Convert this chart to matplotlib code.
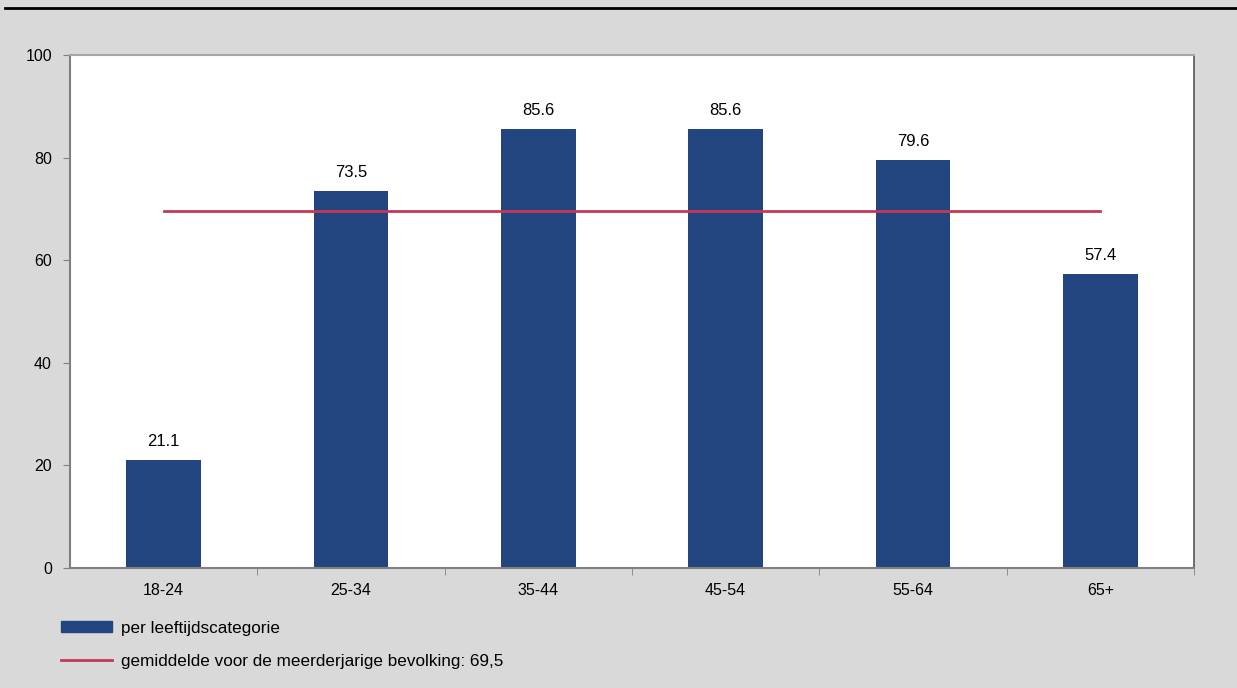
import matplotlib
matplotlib.use("Agg")
import matplotlib.pyplot as plt
from matplotlib.lines import Line2D
from matplotlib.patches import Patch
import numpy as np

# leeftijdscategorieën en percentages
categories = ["18-24", "25-34", "35-44", "45-54", "55-64", "65+"]
values = [21.1, 73.5, 85.6, 85.6, 79.6, 57.4]
average = 69.5
yticks = [0, 20, 40, 60, 80, 100]

bar_color = "#22447f"
avg_color = "#c23a55"
bg_color = "#d9d9d9"

plt.rcParams["font.family"] = ["Liberation Sans", "DejaVu Sans"]
plt.rcParams["font.size"] = 11.5

fig = plt.figure(figsize=(12.37, 6.88), dpi=100, facecolor=bg_color)
ax = fig.add_axes([70 / 1237, 1 - 568 / 688, 1124 / 1237, 513 / 688])
ax.set_facecolor("white")

x = np.arange(len(categories))
ax.bar(x, values, width=0.4, color=bar_color, zorder=2)
ax.plot([x[0], x[-1]], [average, average], color=avg_color, lw=2, zorder=3)

for xi, v in zip(x, values):
    ax.annotate(f"{v:.1f}", (xi, v), xytext=(0, 10), textcoords="offset points",
                ha="center", va="baseline", fontsize=12)

ax.set_xlim(-0.5, len(categories) - 0.5)
ax.set_ylim(0, 100)
ax.set_yticks(yticks)
ax.set_xticks(x)
ax.set_xticklabels(categories)
ax.set_xticks(np.arange(len(categories)) + 0.5, minor=True)
ax.tick_params(axis="x", which="major", length=0, pad=11)
ax.tick_params(axis="x", which="minor", length=5, color="#808080", direction="out")
ax.tick_params(axis="y", length=5, color="#808080", direction="out", pad=8)

for side in ["left", "bottom"]:
    ax.spines[side].set_color("#808080")
    ax.spines[side].set_linewidth(1.5)
ax.spines["top"].set_color("#a6a6a6")
ax.spines["top"].set_linewidth(1.5)
ax.spines["right"].set_color("#555555")
ax.spines["right"].set_linewidth(1.2)

# zwarte lijn bovenaan
fig.add_artist(Line2D([0.004, 1.0], [0.988, 0.988], color="black", lw=2,
                      transform=fig.transFigure))

handles = [Patch(facecolor=bar_color, edgecolor=bar_color),
           Line2D([0], [0], color=avg_color, lw=2)]
labels = ["per leeftijdscategorie",
          "gemiddelde voor de meerderjarige bevolking: 69,5"]
fig.legend(handles, labels, loc="upper left", bbox_to_anchor=(0.0439, 0.108),
           frameon=False, handlelength=2.95, handleheight=0.66, handletextpad=0.55,
           labelspacing=1.1, fontsize=12.3, borderaxespad=0)

fig.savefig("out.png", dpi=100, facecolor=bg_color)
